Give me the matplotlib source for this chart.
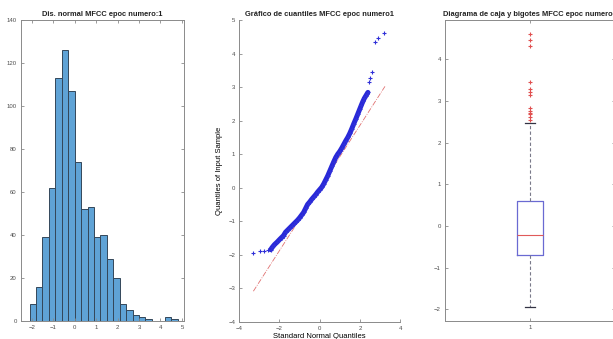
import matplotlib
matplotlib.use("Agg")
from matplotlib import pyplot as plt

# histogram (bin edges and counts)
hist_edges = [-2.1, -1.8, -1.5, -1.2, -0.9, -0.6, -0.3, 0.0, 0.3, 0.6, 0.9, 1.2,
              1.5, 1.8, 2.1, 2.4, 2.7, 3.0, 3.3, 3.6, 3.9, 4.2, 4.5, 4.8]
hist_counts = [8, 16, 39, 62, 113, 126, 107, 74, 52, 53, 39, 40,
               29, 20, 8, 5, 3, 2, 1, 0, 0, 2, 1]

# qq plot points (standard normal quantile, sample quantile)
qq_x = [-3.30, -2.97, -2.77, -2.57, -2.44, -2.36, -2.25, -2.11, -2.0, -1.9,
        -1.8, -1.7, -1.6, -1.5, -1.4, -1.3, -1.2, -1.1, -1.0, -0.9, -0.8,
        -0.7, -0.6, -0.5, -0.4, -0.3, -0.2, -0.1, 0.0, 0.1, 0.2, 0.3, 0.4,
        0.5, 0.6, 0.7, 0.8, 0.9, 1.0, 1.1, 1.2, 1.3, 1.4, 1.5, 1.6, 1.7,
        1.8, 1.9, 2.0, 2.08, 2.15, 2.22, 2.30, 2.35, 2.40,
        2.45, 2.52, 2.61, 2.74, 2.92, 3.22]
qq_y = [-1.94, -1.90, -1.89, -1.87, -1.85, -1.78, -1.70, -1.62, -1.55, -1.49,
        -1.43, -1.33, -1.27, -1.21, -1.15, -1.09, -1.03, -0.97, -0.90, -0.82,
        -0.74, -0.62, -0.50, -0.43, -0.35, -0.28, -0.21, -0.13, -0.06, 0.01,
        0.11, 0.23, 0.35, 0.49, 0.63, 0.77, 0.90, 1.00, 1.08, 1.18, 1.29,
        1.40, 1.50, 1.62, 1.76, 1.91, 2.05, 2.20, 2.35, 2.47, 2.57, 2.66,
        2.74, 2.79, 2.84,
        3.16, 3.26, 3.46, 4.33, 4.46, 4.62]
dense_start, dense_end = 4, 55   # where the points overlap into a band
qq_line_x = [-3.30, 3.25]
qq_line_y = [-3.09, 3.02]

# box plot stats
box_q1, box_med, box_q3 = -0.70, -0.21, 0.60
box_lo, box_hi = -1.94, 2.46
box_fliers = [2.55, 2.61, 2.68, 2.72, 2.76, 2.82, 3.14, 3.22, 3.28, 3.46,
              4.32, 4.46, 4.61]

txt = "#4d4d4d"
axcol = "#8a8a8a"
plt.rcParams["font.family"] = ["Liberation Sans", "DejaVu Sans"]
plt.rcParams["font.size"] = 4.3
plt.rcParams["text.color"] = txt
plt.rcParams["axes.edgecolor"] = axcol
plt.rcParams["axes.linewidth"] = 0.7
plt.rcParams["xtick.color"] = axcol
plt.rcParams["ytick.color"] = axcol
plt.rcParams["xtick.labelcolor"] = txt
plt.rcParams["ytick.labelcolor"] = txt
plt.rcParams["xtick.direction"] = "in"
plt.rcParams["ytick.direction"] = "in"
plt.rcParams["xtick.major.size"] = 2
plt.rcParams["ytick.major.size"] = 2
plt.rcParams["xtick.major.width"] = 0.6
plt.rcParams["ytick.major.width"] = 0.6
plt.rcParams["xtick.major.pad"] = 3
plt.rcParams["ytick.major.pad"] = 3

fig = plt.figure(figsize=(6.13, 3.39), dpi=100)
ax1 = fig.add_axes([0.0343, 0.053, 0.266, 0.888])
ax2 = fig.add_axes([0.3904, 0.051, 0.2622, 0.890])
ax3 = fig.add_axes([0.726, 0.054, 0.2773, 0.887])

title_kw = dict(fontsize=5.4, fontweight="bold", color="#222222", pad=3)

# histogram
widths = [hist_edges[i + 1] - hist_edges[i] for i in range(len(hist_counts))]
ax1.bar(hist_edges[:-1], hist_counts, width=widths, align="edge",
        color="#5fa3d6", edgecolor="#34475a", linewidth=0.7)
ax1.set_xlim(-2.5, 5.1)
ax1.set_ylim(0, 140)
ax1.set_xticks(range(-2, 6))
ax1.set_yticks(range(0, 141, 20))
ax1.tick_params(top=True, right=True)
ax1.set_title("Dis. normal MFCC epoc numero:1", **title_kw)

# qq plot
ax2.plot(qq_line_x, qq_line_y, color="#e07070", linestyle="-.", linewidth=0.6)
ax2.plot(qq_x[dense_start:dense_end], qq_y[dense_start:dense_end],
         color="#2828d8", linewidth=3.6, solid_capstyle="round")
ax2.plot(qq_x, qq_y, linestyle="none", marker="+", markersize=3,
         markeredgewidth=0.8, color="#3030d8")
ax2.set_xlim(-4, 4)
ax2.set_ylim(-4, 5)
ax2.set_xticks([-4, -2, 0, 2, 4])
ax2.set_yticks(range(-4, 6))
ax2.spines["top"].set_visible(False)
ax2.spines["right"].set_visible(False)
ax2.set_xlabel("Standard Normal Quantiles", fontsize=5.5, labelpad=1.5)
ax2.set_ylabel("Quantiles of Input Sample", fontsize=5.5, labelpad=4)
ax2.set_title("Gráfico de cuantiles MFCC epoc numero1", **title_kw)

# box plot
stats = [dict(med=box_med, q1=box_q1, q3=box_q3, whislo=box_lo,
              whishi=box_hi, fliers=box_fliers, label="1")]
ax3.bxp(stats, positions=[1], widths=0.15,
        boxprops=dict(color="#6a6ad2", linewidth=0.9),
        medianprops=dict(color="#e05a5a", linewidth=0.8),
        whiskerprops=dict(color="#7a7a8a", linewidth=0.8, linestyle=(0, (3, 2))),
        capprops=dict(color="#333344", linewidth=0.9),
        capwidths=0.055,
        flierprops=dict(marker="+", markeredgecolor="#e05050",
                        markersize=3, markeredgewidth=0.8))
ax3.set_xlim(0.5, 1.5)
ax3.set_ylim(-2.27, 4.94)
ax3.set_yticks(range(-2, 5))
ax3.tick_params(top=True, right=True)
ax3.set_title("Diagrama de caja y bigotes MFCC epoc numero1", **title_kw)

fig.savefig("out.png", dpi=100)
